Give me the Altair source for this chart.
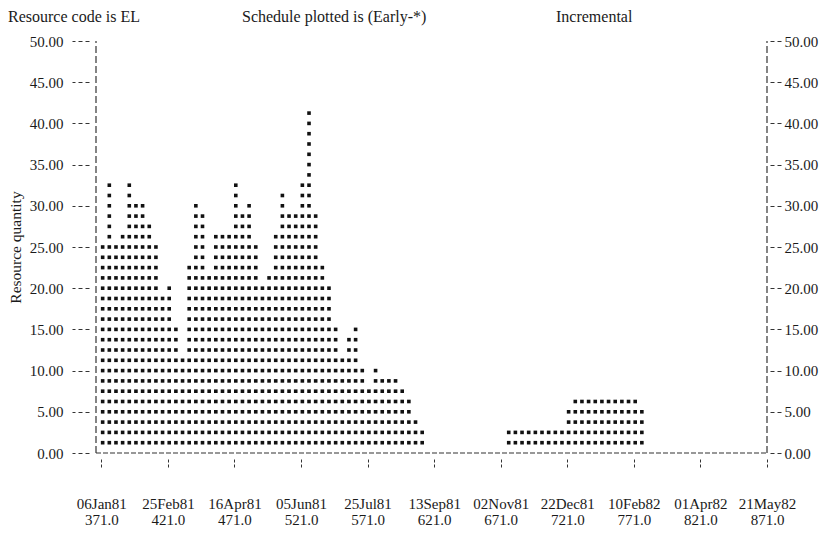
import altair as alt
import pandas as pd

# ---------------- data ----------------
# character histogram: one column per 5-day period, one row per 1.25 units
block1_first_day = 372
block1_heights = [25.0, 32.5, 25.0, 26.25, 32.5, 30.0, 30.0, 27.5, 25.0, 18.75,
                  20.0, 15.0, 11.25, 22.5, 30.0, 28.75, 21.25, 26.25, 26.25, 26.25,
                  32.5, 28.75, 30.0, 25.0, 20.0, 21.25, 26.25, 31.25, 28.75, 28.75,
                  32.5, 41.25, 28.75, 22.5, 20.0, 15.0, 11.25, 13.75, 15.0, 10.0,
                  7.5, 10.0, 8.75, 8.75, 8.75, 7.5, 6.25, 3.75, 2.5]
block2_first_day = 677
block2_heights = [2.5, 2.5, 2.5, 2.5, 2.5, 2.5, 2.5, 2.5, 2.5, 5.0,
                  6.25, 6.25, 6.25, 6.25, 6.25, 6.25, 6.25, 6.25, 6.25, 6.25,
                  5.0]
column_days = 5      # days per character column
row_units = 1.25     # resource units per character row

tick_days = [371, 421, 471, 521, 571, 621, 671, 721, 771, 821, 871]
tick_dates = ["06Jan81", "25Feb81", "16Apr81", "05Jun81", "25Jul81", "13Sep81",
              "02Nov81", "22Dec81", "10Feb82", "01Apr82", "21May82"]
y_ticks = [0, 5, 10, 15, 20, 25, 30, 35, 40, 45, 50]
header_texts = ["Resource code is EL", "Schedule plotted is (Early-*)", "Incremental"]
y_title = "Resource quantity"
x_range = [367, 871]
y_range = [0, 50]

# ---------------- build the dot table ----------------
rows = []
for first_day, heights in [(block1_first_day, block1_heights), (block2_first_day, block2_heights)]:
    for i, h in enumerate(heights):
        day = first_day + column_days * i
        for r in range(1, int(round(h / row_units)) + 1):
            rows.append({"day": day, "qty": r * row_units})
dots = pd.DataFrame(rows)

FONT = "Liberation Serif"
INK = "#1a1a1a"
LINE = "#333333"

x_scale = alt.Scale(domain=x_range, nice=False, zero=False)
y_scale = alt.Scale(domain=y_range, nice=False, zero=False)

dates_js = "[" + ",".join("'" + d + "'" for d in tick_dates) + "]"
days_js = "[" + ",".join(str(d) for d in tick_days) + "]"
label_expr = f"[{dates_js}[indexof({days_js}, datum.value)], format(datum.value, '.1f')]"

x_axis = alt.Axis(values=tick_days, labelExpr=label_expr, title="", domain=False, grid=False,
                  offset=6, tickSize=8, tickColor=LINE, tickDash=[3, 2], labelPadding=29,
                  labelFont=FONT, labelFontSize=15, labelColor=INK, labelLineHeight=16,
                  labelAlign="center", labelFlush=False, labelOverlap=False)

y_axis_left = alt.Axis(values=y_ticks, format=".2f", title=y_title, titleFont=FONT,
                       titleFontSize=15.5, titleFontWeight="normal", titleColor=INK,
                       titlePadding=6, domain=False, grid=False, offset=7, tickSize=17,
                       tickColor=LINE, tickDash=[4, 3], labelPadding=9, labelFont=FONT,
                       labelFontSize=15, labelColor=INK, labelFlush=False)

y_axis_right = alt.Axis(orient="right", values=y_ticks, format=".2f", title="", domain=False,
                        grid=False, offset=3, tickSize=11, tickColor=LINE, tickDash=[4, 3],
                        labelPadding=3, labelFont=FONT, labelFontSize=15, labelColor=INK,
                        labelFlush=False)

base = alt.Chart(dots)

dot_layer = base.mark_point(shape="square", filled=True, size=13, color="#111111", opacity=1).encode(
    x=alt.X("day:Q", scale=x_scale, axis=x_axis),
    y=alt.Y("qty:Q", scale=y_scale, axis=y_axis_left),
)

right_axis_layer = base.mark_point(opacity=0).encode(
    x=alt.X("day:Q", scale=x_scale),
    y=alt.Y("qty:Q", scale=y_scale, axis=y_axis_right),
)

frame = pd.DataFrame({"x0": [x_range[0]], "x1": [x_range[1]], "y0": [y_range[0]], "y1": [y_range[1]]})

left_line = alt.Chart(frame).mark_rule(color=LINE, strokeWidth=1.2, strokeDash=[7, 3]).encode(
    x=alt.X("x0:Q", scale=x_scale),
    y=alt.Y("y0:Q", scale=y_scale, axis=None),
    y2="y1:Q",
)
right_line = alt.Chart(frame).mark_rule(color=LINE, strokeWidth=1.2, strokeDash=[7, 3]).encode(
    x=alt.X("x1:Q", scale=x_scale),
    y=alt.Y("y0:Q", scale=y_scale, axis=None),
    y2="y1:Q",
)
base_line = alt.Chart(frame).mark_rule(color=LINE, strokeWidth=1.2, strokeDash=[5, 2]).encode(
    x=alt.X("x0:Q", scale=x_scale),
    x2="x1:Q",
    y=alt.Y("y0:Q", scale=y_scale, axis=None),
)

header_x = [-88, 146, 460]
headers = []
for txt, hx in zip(header_texts, header_x):
    headers.append(
        alt.Chart(pd.DataFrame({"t": [txt]})).mark_text(
            align="left", baseline="top", font=FONT, fontSize=16, color=INK
        ).encode(text="t:N", x=alt.value(hx), y=alt.value(-32))
    )

chart = alt.layer(left_line, right_line, base_line, dot_layer, right_axis_layer, *headers).resolve_axis(
    y="independent"
).properties(
    width=671, height=412,
    autosize=alt.AutoSizeParams(type="none"),
    padding={"left": 88, "top": 33, "right": 61, "bottom": 75},
    background="white",
).configure_view(strokeWidth=0, stroke="transparent")

chart.save("out.html", embed_options={"renderer": "svg", "actions": False})
